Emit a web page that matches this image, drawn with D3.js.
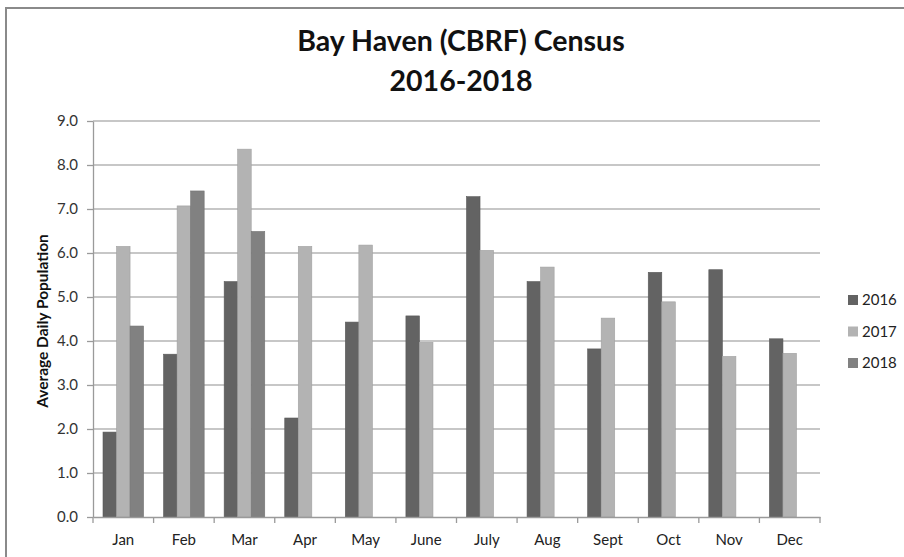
<!DOCTYPE html>
<html lang="en">
  <head>
    <meta charset="UTF-8">
    <title>Bay Haven (CBRF) Census</title>
    <style>
      body { margin: 0; background: #fff; }
      svg { display: block; font-family: Lato, "Open Sans", sans-serif; }
    </style>
    <script src="https://d3js.org/d3.v7.min.js"></script>
  </head>
  <body>
    <script>
      var months = ["Jan", "Feb", "Mar", "Apr", "May", "June", "July", "Aug", "Sept", "Oct", "Nov", "Dec"];
      var years = ["2016", "2017", "2018"];
      var pop2016 = [1.93, 3.70, 5.35, 2.25, 4.43, 4.57, 7.28, 5.35, 3.82, 5.56, 5.62, 4.05];
      var pop2017 = [6.15, 7.07, 8.36, 6.15, 6.18, 3.97, 6.06, 5.68, 4.52, 4.89, 3.65, 3.72];
      var pop2018 = [4.34, 7.41, 6.49, null, null, null, null, null, null, null, null, null];
      var yTicks = [0, 1, 2, 3, 4, 5, 6, 7, 8, 9];

      var colors = { "2016": "#636363", "2017": "#b3b3b3", "2018": "#818181" };
      var series = { "2016": pop2016, "2017": pop2017, "2018": pop2018 };

      var width = 904, height = 557;
      var plotL = 93, plotR = 820, plotT = 121, plotB = 517;

      var svg = d3.select("body").append("svg")
        .attr("width", width)
        .attr("height", height);

      // outer frame of the chart area
      svg.append("rect")
        .attr("x", 6).attr("y", 8)
        .attr("width", width + 10).attr("height", height + 10)
        .attr("fill", "none").attr("stroke", "#8a8a8a").attr("stroke-width", 2);

      var x = d3.scaleBand().domain(months).range([plotL, plotR]);
      var y = d3.scaleLinear().domain([0, 9]).range([plotB, plotT]);
      var inner = d3.scaleBand().domain(years)
        .range([10, x.bandwidth() - 10]);

      // gridlines
      svg.append("g").selectAll("line").data(yTicks.slice(1)).enter().append("line")
        .attr("x1", plotL).attr("x2", plotR)
        .attr("y1", function (d) { return y(d); })
        .attr("y2", function (d) { return y(d); })
        .attr("stroke", "#b5b5b5").attr("stroke-width", 1.3);

      // bars
      var rows = [];
      months.forEach(function (m, i) {
        years.forEach(function (yr) {
          var v = series[yr][i];
          if (v != null) rows.push({ month: m, year: yr, value: v });
        });
      });

      svg.append("g").selectAll("rect").data(rows).enter().append("rect")
        .attr("x", function (d) { return x(d.month) + inner(d.year); })
        .attr("width", inner.bandwidth())
        .attr("y", function (d) { return y(d.value); })
        .attr("height", function (d) { return y(0) - y(d.value); })
        .attr("fill", function (d) { return colors[d.year]; })
        .attr("stroke", function (d) { return d3.color(colors[d.year]).darker(0.3); })
        .attr("stroke-width", 0.6);

      // y axis
      var yAxis = d3.axisLeft(y).tickValues(yTicks).tickFormat(d3.format(".1f"))
        .tickSize(6).tickSizeOuter(0);
      var gy = svg.append("g").attr("transform", "translate(" + plotL + ",0)").call(yAxis);
      gy.select(".domain").attr("stroke", "#9a9a9a").attr("stroke-width", 1.3);
      gy.selectAll(".tick line").attr("stroke", "#9a9a9a").attr("stroke-width", 1.3);
      gy.selectAll("text").attr("font-size", 15).attr("fill", "#333")
        .attr("font-family", "Lato, sans-serif").attr("x", -15);

      // x axis
      var xAxis = d3.axisBottom(x).tickSize(0).tickSizeOuter(0);
      var gx = svg.append("g").attr("transform", "translate(0," + plotB + ")").call(xAxis);
      gx.select(".domain").attr("stroke", "#9a9a9a").attr("stroke-width", 1.3);
      gx.selectAll("text").attr("font-size", 15).attr("fill", "#222")
        .attr("font-family", "Lato, sans-serif").attr("y", 17).attr("dy", "0.71em");
      svg.append("g").selectAll("line").data(months.concat([null])).enter().append("line")
        .attr("x1", function (d, i) { return plotL + i * x.step(); })
        .attr("x2", function (d, i) { return plotL + i * x.step(); })
        .attr("y1", plotB).attr("y2", plotB + 6)
        .attr("stroke", "#9a9a9a").attr("stroke-width", 1.3);

      // y axis title
      svg.append("text")
        .attr("transform", "translate(48," + ((plotT + plotB) / 2 + 2) + ") rotate(-90)")
        .attr("text-anchor", "middle")
        .attr("font-size", 15.5).attr("font-weight", "bold").attr("fill", "#111")
        .text("Average Daily Population");

      // title
      var title = svg.append("text").attr("text-anchor", "middle")
        .attr("font-size", 28.5).attr("font-weight", "bold").attr("fill", "#111");
      title.append("tspan").attr("x", 461).attr("y", 51).text("Bay Haven (CBRF) Census");
      title.append("tspan").attr("x", 461).attr("y", 91).text("2016-2018");

      // legend
      var legend = svg.append("g").selectAll("g").data(years).enter().append("g")
        .attr("transform", function (d, i) { return "translate(848," + (300 + i * 31.5) + ")"; });
      legend.append("rect")
        .attr("x", 0).attr("y", -5).attr("width", 10).attr("height", 10)
        .attr("fill", function (d) { return colors[d]; });
      legend.append("text")
        .attr("x", 14).attr("dy", "0.35em")
        .attr("font-size", 15).attr("fill", "#222")
        .text(function (d) { return d; });
    </script>
  </body>
</html>
